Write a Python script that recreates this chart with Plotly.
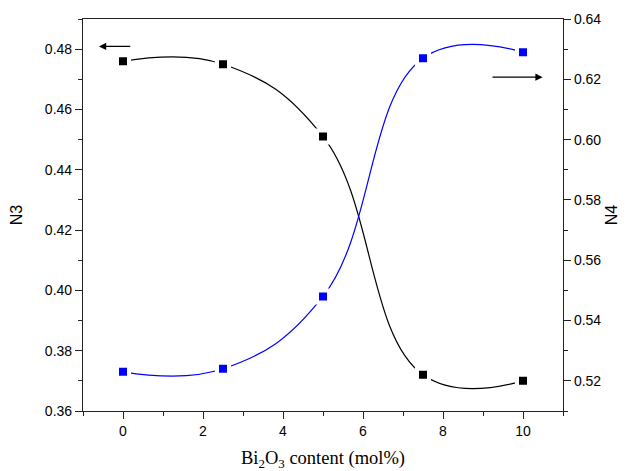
import plotly.graph_objects as go

# Data
bi2o3 = [0, 2.5, 5, 7.5, 10]
n3 = [0.476, 0.475, 0.451, 0.372, 0.370]
n4 = [0.523, 0.524, 0.548, 0.627, 0.629]

x_ticks = [0, 2, 4, 6, 8, 10]
n3_ticks = [0.36, 0.38, 0.40, 0.42, 0.44, 0.46, 0.48]
n4_ticks = [0.52, 0.54, 0.56, 0.58, 0.60, 0.62, 0.64]

axis_color = "#222222"
tick_font = dict(family="Liberation Sans, Arial", size=14, color="#000000")

fig = go.Figure()

fig.add_trace(go.Scatter(
    x=bi2o3, y=n3, mode="lines+markers", name="N3",
    line=dict(color="#000000", width=1.2, shape="spline", smoothing=1.2),
    marker=dict(symbol="square", size=12, color="#000000",
                line=dict(color="white", width=4)),
    yaxis="y", showlegend=False,
))
fig.add_trace(go.Scatter(
    x=bi2o3, y=n4, mode="lines+markers", name="N4",
    line=dict(color="#0000FF", width=1.2, shape="spline", smoothing=1.2),
    marker=dict(symbol="square", size=12, color="#0000FF",
                line=dict(color="white", width=4)),
    yaxis="y2", showlegend=False,
))

# Arrows pointing to axes
fig.add_annotation(x=-0.6, y=0.4809, ax=0.22, ay=0.4809,
                   xref="x", yref="y", axref="x", ayref="y",
                   showarrow=True, arrowhead=2, arrowsize=1.2, arrowwidth=1.2,
                   arrowcolor="#000000", text="")
fig.add_annotation(x=10.49, y=0.6207, ax=9.2, ay=0.6207,
                   xref="x", yref="y2", axref="x", ayref="y2",
                   showarrow=True, arrowhead=2, arrowsize=1.2, arrowwidth=1.2,
                   arrowcolor="#000000", text="")

fig.update_layout(
    width=627, height=471,
    margin=dict(l=83, r=64, t=19, b=60),
    paper_bgcolor="white", plot_bgcolor="white",
    xaxis=dict(
        range=[-1, 11], tickvals=x_ticks, ticktext=[str(v) for v in x_ticks],
        ticks="outside", ticklen=7, tickwidth=1.2, tickcolor=axis_color,
        minor=dict(dtick=1, ticks="outside", ticklen=4, tickwidth=1.2, tickcolor=axis_color),
        showline=True, linecolor=axis_color, linewidth=1.2, mirror=True,
        showgrid=False, zeroline=False, tickfont=tick_font, automargin=False,
        title=dict(text="Bi<sub>2</sub>O<sub>3</sub> content (mol%)",
                   font=dict(family="Liberation Serif, Times New Roman", size=18.5, color="#000000"),
                   standoff=16),
    ),
    yaxis=dict(
        range=[0.36, 0.49], tickvals=n3_ticks, ticktext=[f"{v:.2f}" for v in n3_ticks],
        ticks="outside", ticklen=7, tickwidth=1.2, tickcolor=axis_color,
        minor=dict(dtick=0.01, ticks="outside", ticklen=4, tickwidth=1.2, tickcolor=axis_color),
        showline=True, linecolor=axis_color, linewidth=1.2,
        showgrid=False, zeroline=False, tickfont=tick_font, automargin=False,
        title=dict(text="N3", font=dict(family="Liberation Sans, Arial", size=16, color="#000000"),
                   standoff=18),
    ),
    yaxis2=dict(
        range=[0.51, 0.64], tickvals=n4_ticks, ticktext=[f"{v:.2f}" for v in n4_ticks],
        overlaying="y", side="right",
        ticks="outside", ticklen=7, tickwidth=1.2, tickcolor=axis_color,
        minor=dict(dtick=0.01, ticks="outside", ticklen=4, tickwidth=1.2, tickcolor=axis_color),
        showline=True, linecolor=axis_color, linewidth=1.2,
        showgrid=False, zeroline=False, tickfont=tick_font, automargin=False,
        title=dict(text="N4", font=dict(family="Liberation Sans, Arial", size=16, color="#000000"),
                   standoff=5),
    ),
)

fig.write_html("out.html")
